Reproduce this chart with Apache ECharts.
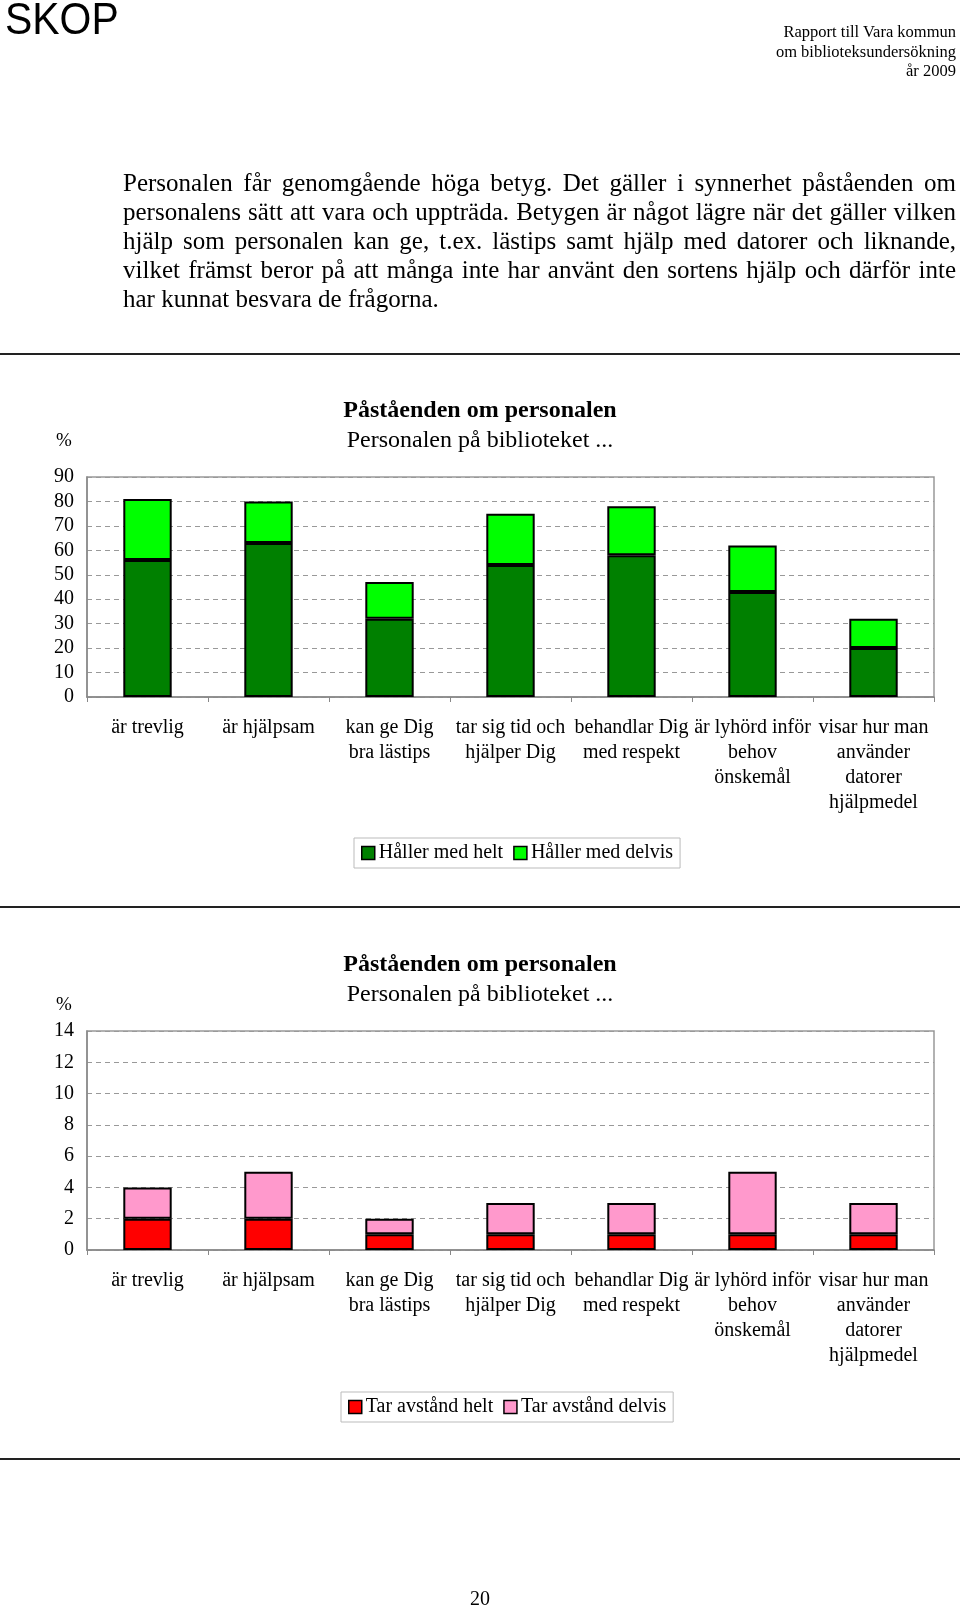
<!DOCTYPE html>
<html>
<head>
<meta charset="utf-8">
<script src="https://cdn.jsdelivr.net/npm/echarts@6/dist/echarts.min.js"></script>
<style>
  html, body { margin: 0; padding: 0; background: #fff; }
  #page { position: relative; width: 960px; height: 1609px; overflow: hidden; background: #fff; }
  #chart { position: absolute; left: 0; top: 0; width: 960px; height: 1609px; }
  .txt { position: absolute; font-family: "Liberation Serif", "DejaVu Serif", serif; color: #000; }
  #skop { left: 5px; top: -3px; font-family: "Liberation Sans", Arial, sans-serif; font-size: 44px; line-height: 44px; transform: scaleX(0.93); transform-origin: 0 0; }
  #hdr { right: 4px; top: 22px; font-size: 16.5px; line-height: 19.5px; text-align: right; }
  #para { left: 123px; top: 168px; width: 833px; font-size: 25px; line-height: 29px; }
  #para .ln { text-align: justify; text-align-last: justify; white-space: nowrap; }
  #para .ln.last { text-align-last: left; }
  .rule { position: absolute; left: 0; width: 960px; height: 2px; background: #222; }
  #pnum { left: 0; width: 960px; top: 1586px; font-size: 20px; line-height: 24px; text-align: center; }
</style>
</head>
<body>
<div id="page">
  <div id="chart"></div>
  <div class="txt" id="skop">SKOP</div>
  <div class="txt" id="hdr">Rapport till Vara kommun<br>om biblioteksundersökning<br>år 2009</div>
  <div class="txt" id="para">
    <div class="ln">Personalen får genomgående höga betyg. Det gäller i synnerhet påståenden om</div>
    <div class="ln">personalens sätt att vara och uppträda. Betygen är något lägre när det gäller vilken</div>
    <div class="ln">hjälp som personalen kan ge, t.ex. lästips samt hjälp med datorer och liknande,</div>
    <div class="ln">vilket främst beror på att många inte har använt den sortens hjälp och därför inte</div>
    <div class="ln last">har kunnat besvara de frågorna.</div>
  </div>
  <div class="rule" style="top:353px"></div>
  <div class="rule" style="top:906px"></div>
  <div class="rule" style="top:1458px"></div>
  <div class="txt" id="pnum">20</div>
</div>
<script>
const categories = [
  'är trevlig',
  'är hjälpsam',
  'kan ge Dig\nbra lästips',
  'tar sig tid och\nhjälper Dig',
  'behandlar Dig\nmed respekt',
  'är lyhörd inför\nbehov\nönskemål',
  'visar hur man\nanvänder\ndatorer\nhjälpmedel'
];
const chartTitle = 'Påståenden om personalen';
const chartSubtitle = 'Personalen på biblioteket ...';
const agreeNames = ['Håller med helt', 'Håller med delvis'];
const agreeFull = [56, 63, 32, 54, 58, 43, 20];
const agreePartly = [25, 17, 15, 21, 20, 19, 12];
const disagreeNames = ['Tar avstånd helt', 'Tar avstånd delvis'];
const disagreeFull = [2, 2, 1, 1, 1, 1, 1];
const disagreePartly = [2, 3, 1, 2, 2, 4, 2];
const axis1 = [0, 90, 10];   // min, max, interval
const axis2 = [0, 14, 2];

const FONT = 'Liberation Serif';
const chart = echarts.init(document.getElementById('chart'), null, { renderer: 'canvas' });

function titleBlock(topMain, topSub, topPct) {
  return [
    { text: chartTitle, left: 'center', top: topMain, padding: 0,
      textStyle: { fontFamily: FONT, fontSize: 24, fontWeight: 'bold', color: '#000', lineHeight: 24 } },
    { text: chartSubtitle, left: 'center', top: topSub, padding: 0,
      textStyle: { fontFamily: FONT, fontSize: 24, fontWeight: 'normal', color: '#000', lineHeight: 24 } },
    { text: '%', left: 56, top: topPct, padding: 0,
      textStyle: { fontFamily: FONT, fontSize: 19, fontWeight: 'normal', color: '#000', lineHeight: 19 } }
  ];
}

function xAxis(gridIndex) {
  return {
    type: 'category', gridIndex, data: categories,
    axisLine: { lineStyle: { color: '#888', width: 1.5 } },
    axisTick: { show: true, length: 5, lineStyle: { color: '#888', width: 1 } },
    axisLabel: { interval: 0, margin: 18, fontFamily: FONT, fontSize: 20, lineHeight: 25, color: '#000', align: 'center' }
  };
}
function yAxis(gridIndex, a) {
  return {
    type: 'value', gridIndex, min: a[0], max: a[1], interval: a[2],
    axisLine: { show: true, lineStyle: { color: '#888', width: 1.5 } },
    axisTick: { show: false },
    axisLabel: { margin: 13, fontFamily: FONT, fontSize: 20, color: '#000' },
    splitLine: { show: true, lineStyle: { color: '#999', width: 1, type: [5, 4] } }
  };
}
function bar(name, data, color, xi, stack) {
  return {
    name, type: 'bar', stack, data, xAxisIndex: xi, yAxisIndex: xi,
    barWidth: '40%',
    itemStyle: { color, borderColor: '#000', borderWidth: 2 },
    emphasis: { disabled: true }
  };
}
function legend(names, left, top) {
  return {
    data: names, left, top, orient: 'horizontal',
    padding: [5, 7], itemGap: 10, itemWidth: 13, itemHeight: 13,
    icon: 'rect', borderColor: '#bbb', borderWidth: 1,
    itemStyle: { borderColor: '#000', borderWidth: 1.5 },
    textStyle: { fontFamily: FONT, fontSize: 20, color: '#000', padding: [0, 0, 0, -1] }
  };
}

chart.setOption({
  animation: false,
  backgroundColor: 'transparent',
  title: [].concat(titleBlock(399, 429, 432), titleBlock(953, 983, 996)),
  grid: [
    { left: 87, right: 26, top: 477, height: 220, show: true, borderColor: '#999', borderWidth: 1.5, backgroundColor: 'transparent' },
    { left: 87, right: 26, top: 1031, height: 219, show: true, borderColor: '#999', borderWidth: 1.5, backgroundColor: 'transparent' }
  ],
  legend: [
    legend(agreeNames, 354, 838),
    legend(disagreeNames, 341, 1392)
  ],
  xAxis: [xAxis(0), xAxis(1)],
  yAxis: [yAxis(0, axis1), yAxis(1, axis2)],
  series: [
    bar(agreeNames[0], agreeFull, '#008000', 0, 'agree'),
    bar(agreeNames[1], agreePartly, '#00ff00', 0, 'agree'),
    bar(disagreeNames[0], disagreeFull, '#ff0000', 1, 'disagree'),
    bar(disagreeNames[1], disagreePartly, '#ff99cc', 1, 'disagree')
  ]
});
</script>
</body>
</html>
